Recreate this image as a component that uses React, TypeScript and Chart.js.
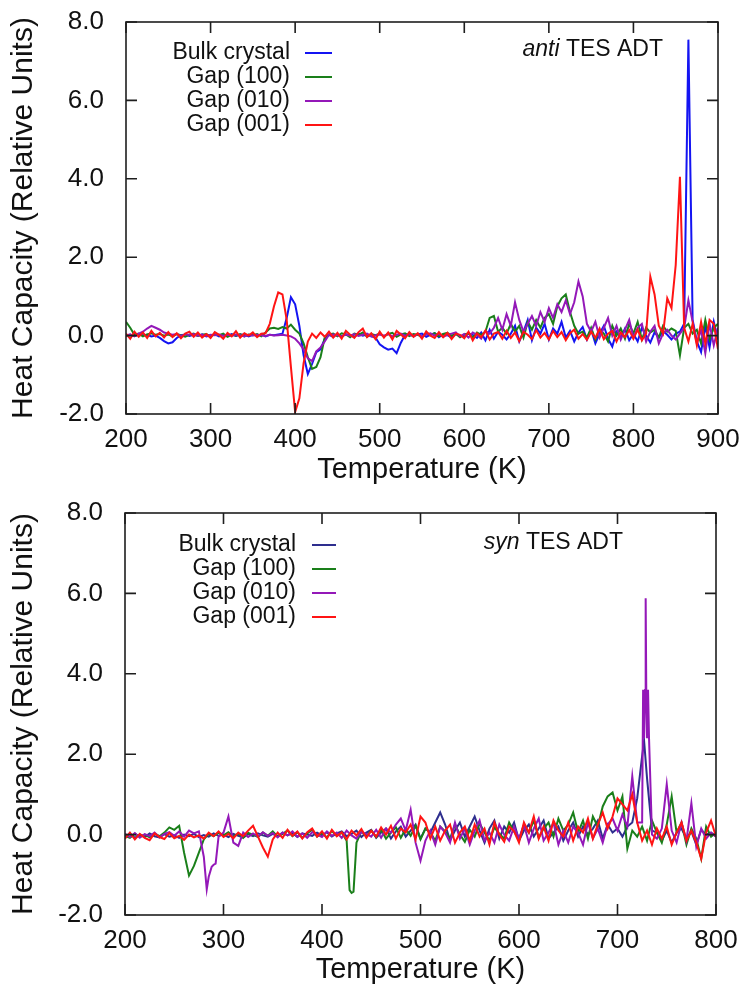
import React, { useEffect, useRef } from "react";
import { Chart, registerables } from "chart.js";

Chart.register(...registerables);

const FONT = '"Liberation Sans", Arial, Helvetica, sans-serif';

const SERIES_LABELS = ["Bulk crystal", "Gap (100)", "Gap (010)", "Gap (001)"];
const TOP_COLORS = ["#1414f2", "#1a7f1a", "#9418b8", "#ff1414"];
const BOT_COLORS = ["#2e2e8e", "#1a7f1a", "#9418b8", "#ff1414"];
const X_TITLE = "Temperature (K)";
const Y_TITLE = "Heat Capacity (Relative Units)";
const TOP_NOTE = ["anti", " TES ADT"];
const BOT_NOTE = ["syn", " TES ADT"];
const Y_TICKS = { min: -2, max: 8, step: 2 };
const TOP_X = { min: 200, max: 900, step: 100 };
const BOT_X = { min: 200, max: 800, step: 100 };

// ---- top panel (anti TES ADT), sampled every 5 K from 200 K ----
const TOP_T_START = 200;
const TOP_T_STEP = 5;

const TOP_BULK = [
  0.00, 0.02, -0.01, 0.03, 0.01, 0.02, -0.02, 0.00, -0.06, -0.14,
  -0.20, -0.17, -0.06, 0.01, 0.03, -0.01, 0.02, 0.00, 0.03, -0.02,
  0.01, 0.03, -0.02, 0.02, 0.00, 0.04, -0.01, 0.02, 0.03, -0.02,
  0.02, 0.00, 0.03, -0.02, 0.02, 0.01, 0.03, 0.05, 0.45, 0.98,
  0.80, 0.25, -0.50, -0.98, -0.72, -0.42, -0.35, -0.08, 0.02, -0.03,
  0.04, -0.02, 0.03, 0.01, -0.03, 0.05, 0.00, 0.03, -0.02, -0.05,
  -0.22, -0.30, -0.36, -0.33, -0.45, -0.18, 0.02, 0.04, -0.02, 0.03,
  0.05, -0.03, 0.02, 0.06, -0.04, 0.03, 0.01, -0.05, 0.04, 0.00,
  -0.03, 0.05, 0.02, -0.06, 0.08, -0.12, 0.15, -0.08, 0.10, 0.02,
  -0.10, 0.05, 0.25, -0.15, 0.10, 0.40, -0.12, 0.20, 0.05, 0.30,
  -0.10, 0.18, 0.05, 0.35, -0.05, 0.12, -0.15, 0.08, 0.22, -0.10,
  0.15, -0.20, 0.05, 0.25, -0.08, -0.28, 0.10, -0.05, 0.18, -0.12,
  0.05, -0.15, 0.20, 0.00, -0.18, 0.08, -0.05, 0.12, 0.02, -0.10,
  0.05, 0.10, 0.30, 7.55, 0.40, -0.15, -0.42, 0.25, -0.30, 0.35,
  -0.10,
];

const TOP_G100 = [
  0.35, 0.20, 0.02, 0.05, -0.02, 0.03, 0.06, 0.02, 0.04, 0.00,
  0.03, -0.02, 0.04, 0.01, -0.03, 0.02, 0.05, -0.01, 0.02, 0.04,
  -0.02, 0.03, 0.01, 0.05, -0.03, 0.02, 0.00, 0.04, -0.02, 0.03,
  0.01, 0.04, -0.02, 0.08, 0.18, 0.20, 0.17, 0.22, 0.18, 0.28,
  0.15, 0.05, -0.20, -0.55, -0.85, -0.80, -0.55, -0.05, 0.03, 0.05,
  -0.02, 0.06, 0.03, -0.04, 0.05, 0.02, 0.08, -0.03, 0.04, 0.01,
  0.05, -0.02, 0.04, 0.07, -0.03, 0.03, 0.06, -0.01, 0.04, 0.02,
  -0.03, 0.05, 0.02, 0.06, -0.02, 0.04, 0.07, 0.00, 0.05, -0.04,
  0.03, 0.06, -0.05, 0.08, 0.02, 0.10, 0.45, 0.50, 0.10, 0.20,
  0.05, 0.30, 0.10, 0.25, -0.05, 0.35, 0.15, 0.40, 0.20, 0.45,
  0.55, 0.30, 0.75, 0.95, 1.05, 0.60, 0.25, 0.05, 0.10, -0.05,
  0.20, -0.10, 0.15, 0.05, -0.15, 0.25, 0.00, 0.18, -0.08, 0.30,
  0.05, 0.35, -0.10, 0.20, 0.08, 0.15, -0.05, 0.25, 0.10, 0.18,
  0.12, -0.50, 0.20, 0.30, 0.05, 0.15, -0.20, 0.40, -0.10, 0.20,
  0.30,
];

const TOP_G010 = [
  0.00, 0.03, -0.02, 0.05, 0.10, 0.18, 0.25, 0.20, 0.15, 0.08,
  0.05, 0.02, 0.04, -0.01, 0.03, 0.02, 0.04, 0.00, 0.02, -0.01,
  0.02, 0.01, 0.03, -0.01, 0.02, 0.00, 0.03, 0.01, -0.02, 0.02,
  0.00, 0.02, 0.01, -0.01, 0.02, 0.00, 0.01, 0.02, 0.00, -0.02,
  -0.08, -0.20, -0.35, -0.58, -0.65, -0.40, -0.30, -0.15, 0.02, 0.03,
  0.01, -0.02, 0.03, 0.00, 0.04, -0.01, 0.02, 0.05, -0.02, 0.01,
  0.03, 0.00, 0.04, -0.02, 0.02, 0.05, -0.01, 0.03, 0.00, 0.04,
  -0.02, 0.03, 0.06, 0.00, 0.04, -0.03, 0.02, 0.05, 0.08, -0.02,
  0.04, -0.05, 0.08, 0.02, -0.08, 0.12, 0.05, 0.20, 0.45, 0.15,
  0.55, 0.25, 0.85, 0.40, 0.10, 0.30, 0.50, 0.25, 0.60, 0.35,
  0.70, 0.45, 0.80, 0.60, 0.90, 0.55, 0.85, 1.38, 1.00, 0.30,
  0.10, 0.35, -0.05, 0.20, 0.45, 0.00, 0.25, -0.10, 0.15, 0.40,
  -0.05, 0.20, 0.30, -0.15, 0.10, 0.25, -0.20, 0.05, 0.15, 0.00,
  -0.10, 0.05, 0.20, 0.90, 0.35, -0.20, 0.15, -0.45, 0.30, -0.25,
  0.20,
];

const TOP_G001 = [
  0.05, -0.08, 0.10, -0.03, 0.08, -0.06, 0.12, -0.02, 0.07, -0.05,
  0.09, -0.04, 0.06, -0.07, 0.05, 0.10, -0.03, 0.08, -0.05, 0.04,
  -0.06, 0.09, 0.02, -0.08, 0.07, -0.02, 0.11, -0.05, 0.06, 0.00,
  0.08, -0.04, 0.05, 0.06, 0.30, 0.75, 1.10, 1.05, 0.40, -0.80,
  -1.95, -1.60, -0.70, -0.15, 0.05, -0.06, 0.08, -0.03, 0.10, -0.05,
  0.07, -0.08, 0.12, 0.02, -0.06, 0.09, 0.18, -0.04, 0.06, -0.09,
  0.10, -0.05, 0.08, -0.10, 0.12, 0.03, -0.07, 0.09, -0.03, 0.06,
  -0.08, 0.11, 0.00, -0.06, 0.09, -0.04, 0.07, -0.09, 0.05, 0.02,
  -0.07, 0.10, -0.12, 0.06, -0.04, 0.13, -0.10, 0.05, 0.09, -0.08,
  0.12, -0.06, 0.08, -0.14, 0.10, 0.02, -0.09, 0.14, -0.05, 0.07,
  -0.10, 0.12, -0.04, 0.09, -0.12, 0.06, 0.15, -0.08, 0.04, -0.11,
  0.10, -0.06, 0.18, -0.09, 0.05, 0.12, -0.15, 0.08, -0.04, 0.14,
  -0.08, 0.15, -0.12, 0.05, 1.50, 1.05, 0.25, 0.05, 0.95, 0.70,
  1.80, 4.05, 0.20, -0.15, 0.30, -0.25, 0.35, -0.20, 0.40, 0.30,
  -0.35,
];

// ---- bottom panel (syn TES ADT), sampled every 5 K from 200 K ----
const BOT_T_START = 200;
const BOT_T_STEP = 5;

const BOT_BULK = [
  -0.05, 0.02, -0.08, 0.00, -0.06, 0.03, -0.04, -0.07, 0.01, -0.05,
  -0.02, -0.08, 0.00, -0.04, 0.02, -0.06, -0.01, -0.05, 0.03, -0.03,
  0.00, -0.06, 0.02, -0.03, -0.07, 0.01, -0.04, 0.03, -0.02, -0.05,
  0.02, -0.04, 0.05, -0.02, 0.04, -0.06, 0.03, 0.00, -0.03, 0.05,
  -0.02, 0.06, -0.05, 0.03, 0.08, -0.04, 0.02, 0.10, -0.06, 0.05,
  0.12, -0.08, 0.05, 0.15, -0.10, 0.08, 0.20, -0.05, 0.10, 0.25,
  -0.10, 0.15, 0.05, 0.30, 0.55, 0.25, -0.15, 0.10, 0.30, -0.05,
  0.20, 0.45, 0.10, -0.20, 0.15, 0.35, -0.10, 0.20, 0.05, 0.30,
  -0.15, 0.10, 0.25, -0.05, 0.15, 0.35, -0.10, 0.05, 0.20, -0.15,
  0.10, 0.30, -0.05, 0.20, 0.00, 0.15, 0.35, -0.10, 0.25, 0.05,
  0.15, -0.05, 0.20, 0.30, 0.90, 1.95, 1.40, 0.10, 0.05, -0.15,
  0.10, -0.20, 0.05, 0.15, -0.10, 0.08, -0.25, 0.12, 0.00, 0.05,
  -0.05,
];
const BOT_BULK_EXTRA_T = [727];
const BOT_BULK_EXTRA_V = [2.33];

const BOT_G100 = [
  -0.03, -0.08, 0.02, -0.05, 0.00, -0.07, 0.03, -0.04, 0.05, 0.18,
  0.12, 0.22, -0.45, -1.02, -0.78, -0.45, -0.12, 0.02, -0.04, 0.05,
  -0.02, 0.06, -0.05, 0.03, -0.08, 0.04, 0.00, -0.06, 0.05, -0.03,
  0.08, -0.05, 0.02, 0.10, -0.04, 0.06, -0.08, 0.03, 0.12, -0.05,
  0.04, -0.07, 0.09, -0.03, 0.05, -0.15, -1.45, -0.20, 0.08, -0.04,
  0.10, -0.06, 0.12, -0.10, 0.05, 0.18, -0.08, 0.14, -0.03, 0.22,
  -0.12, 0.15, 0.05, -0.15, 0.20, 0.08, -0.10, 0.25, 0.00, -0.18,
  0.12, -0.05, 0.28, 0.05, -0.15, 0.18, 0.02, -0.10, 0.30, 0.08,
  -0.12, 0.22, 0.05, 0.35, -0.08, 0.15, 0.30, -0.05, 0.40, 0.10,
  0.25, 0.55, 0.05, 0.35, -0.10, 0.45, 0.20, 0.70, 0.95, 1.05,
  0.60, 0.95, -0.35, 0.10, -0.05, 0.20, -0.15, 0.35, 0.05, -0.20,
  0.25, 0.95, 0.05, 0.30, -0.25, 0.15, -0.10, -0.60, 0.20, -0.05,
  0.05,
];
const BOT_G100_EXTRA_T = [428, 432];
const BOT_G100_EXTRA_V = [-1.38, -1.42];

const BOT_G010 = [
  0.02, -0.06, 0.04, -0.08, 0.01, -0.04, 0.05, -0.07, 0.02, 0.06,
  -0.03, 0.08, -0.05, 0.10, 0.03, 0.08, -0.55, -1.05, -0.75, -0.05,
  0.05, 0.45, -0.20, -0.28, 0.05, -0.06, 0.03, -0.05, 0.06, -0.03,
  0.04, -0.07, 0.05, -0.02, 0.08, -0.05, 0.03, -0.08, 0.06, 0.00,
  -0.06, 0.08, -0.03, 0.05, -0.08, 0.10, -0.02, -0.10, 0.06, 0.02,
  -0.05, 0.12, -0.08, 0.15, 0.05, 0.25, 0.40, 0.10, 0.62, -0.20,
  -0.65, -0.15, 0.10, -0.25, 0.20, 0.05, -0.20, 0.30, -0.10, 0.15,
  -0.25, 0.10, 0.35, -0.15, 0.05, -0.20, 0.25, 0.00, -0.15, 0.20,
  -0.10, 0.25, -0.20, 0.15, 0.40, -0.15, 0.05, 0.30, -0.25, 0.10,
  -0.20, 0.20, 0.05, -0.25, 0.30, -0.10, 0.15, -0.20, 0.25, 0.40,
  0.10, 0.50, 0.20, 1.45, 0.30, 0.30, 2.40, 0.00, -0.10, 0.15,
  1.25, 0.10, -0.20, 0.30, -0.15, 0.78, -0.30, 0.15, -0.10, 0.05,
  -0.05,
];
const BOT_G010_EXTRA_T = [283, 288, 292, 726, 727, 728, 728.6, 729.2, 731, 732];
const BOT_G010_EXTRA_V = [-1.36, -0.80, -0.72, 3.60, 2.40, 3.60, 5.88, 3.60, 3.60, 2.40];

const BOT_G001 = [
  -0.10, 0.05, -0.12, 0.02, -0.08, -0.14, 0.03, -0.06, -0.11, 0.04,
  -0.09, -0.03, -0.13, 0.00, -0.07, -0.02, -0.10, 0.05, -0.04, 0.08,
  -0.06, 0.02, -0.09, 0.05, -0.04, 0.10, 0.22, -0.05, -0.32, -0.55,
  -0.12, 0.05, -0.08, 0.12, -0.03, 0.08, -0.10, 0.06, 0.15, -0.05,
  0.08, -0.10, 0.12, -0.04, 0.06, -0.12, 0.10, -0.02, 0.14, -0.08,
  0.10, -0.05, 0.18, 0.00, 0.22, -0.10, 0.15, 0.05, 0.25, -0.12,
  0.45, 0.30, -0.10, 0.20, -0.15, 0.10, 0.25, -0.20, 0.05, 0.20,
  -0.15, 0.25, -0.05, 0.15, -0.25, 0.30, 0.00, -0.18, 0.20, 0.08,
  -0.20, 0.30, 0.05, 0.45, -0.10, 0.20, -0.15, 0.35, 0.10, -0.05,
  0.30, -0.15, 0.20, 0.05, 0.40, -0.10, 0.25, 0.55, 0.15, 0.45,
  0.90, 0.75, 0.60, 1.00, 0.30, -0.15, 0.10, -0.25, 0.15, -0.10,
  0.20, -0.25, 0.05, 0.30, -0.15, 0.10, -0.20, -0.60, 0.05, 0.35,
  -0.05,
];

type Pt = { x: number; y: number };

function buildPoints(start: number, step: number, values: number[], extraT: number[] = [], extraV: number[] = []): Pt[] {
  const pts: Pt[] = values.map((v, i) => ({ x: start + i * step, y: v }));
  extraT.forEach((t, i) => pts.push({ x: t, y: extraV[i] }));
  pts.sort((a, b) => a.x - b.x);
  return pts;
}

const framePlugin = {
  id: "frameLegend",
  afterDatasetsDraw(chart: any, _args: any, opts: any) {
    const { ctx, chartArea } = chart;
    const { left, right, top, bottom } = chartArea;
    const xs = chart.scales.x;
    const ys = chart.scales.y;
    ctx.save();
    ctx.strokeStyle = "#1e1e1e";
    ctx.lineWidth = 1.6;
    ctx.strokeRect(left, top, right - left, bottom - top);
    const L = 11;
    ctx.beginPath();
    xs.ticks.forEach((t: any) => {
      const px = xs.getPixelForValue(t.value);
      ctx.moveTo(px, bottom);
      ctx.lineTo(px, bottom - L);
      ctx.moveTo(px, top);
      ctx.lineTo(px, top + L);
    });
    ys.ticks.forEach((t: any) => {
      const py = ys.getPixelForValue(t.value);
      ctx.moveTo(left, py);
      ctx.lineTo(left + L, py);
      ctx.moveTo(right, py);
      ctx.lineTo(right - L, py);
    });
    ctx.stroke();

    // legend
    ctx.font = `${opts.fontSize}px ${FONT}`;
    ctx.fillStyle = "#111";
    ctx.textAlign = "right";
    ctx.textBaseline = "middle";
    chart.data.datasets.forEach((ds: any, i: number) => {
      const y = opts.rows[i];
      ctx.fillText(ds.label, opts.labelRight, y);
      ctx.beginPath();
      ctx.strokeStyle = ds.borderColor;
      ctx.lineWidth = 2;
      ctx.moveTo(opts.sampleLeft, y);
      ctx.lineTo(opts.sampleRight, y);
      ctx.stroke();
    });

    // note
    ctx.textAlign = "left";
    ctx.fillStyle = "#111";
    const italicFont = `italic ${opts.fontSize}px ${FONT}`;
    const normalFont = `${opts.fontSize}px ${FONT}`;
    ctx.font = italicFont;
    const w1 = ctx.measureText(opts.note[0]).width;
    ctx.font = normalFont;
    const w2 = ctx.measureText(opts.note[1]).width;
    const x0 = opts.noteRight - w1 - w2;
    ctx.font = italicFont;
    ctx.fillText(opts.note[0], x0, opts.noteY);
    ctx.font = normalFont;
    ctx.fillText(opts.note[1], x0 + w1, opts.noteY);
    ctx.restore();
  },
};

function makeConfig(p: any): any {
  return {
    type: "line",
    data: {
      datasets: p.series.map((pts: Pt[], i: number) => ({
        label: SERIES_LABELS[i],
        data: pts,
        borderColor: p.colors[i],
        backgroundColor: p.colors[i],
        borderWidth: 2,
        pointRadius: 0,
        tension: 0,
        fill: false,
        order: 10 - i,
      })),
    },
    options: {
      responsive: false,
      animation: false,
      devicePixelRatio: 1,
      layout: { autoPadding: false, padding: { left: 0, top: p.padTop, right: p.padRight, bottom: 0 } },
      plugins: {
        legend: { display: false },
        tooltip: { enabled: false },
        frameLegend: p.legend,
      },
      scales: {
        x: {
          type: "linear",
          min: p.xRange.min,
          max: p.xRange.max,
          afterFit: (s: any) => {
            s.height = p.xAxisH;
            s.paddingLeft = 0;
            s.paddingRight = 0;
          },
          grid: { display: false, drawTicks: false },
          border: { display: false },
          ticks: {
            stepSize: p.xRange.step,
            padding: 10,
            autoSkip: false,
            maxRotation: 0,
            color: "#111",
            font: { family: FONT, size: 26 },
            callback: (v: any) => String(v),
          },
          title: {
            display: true,
            text: X_TITLE,
            color: "#111",
            font: { family: FONT, size: 29 },
            padding: { top: 0, bottom: 7 },
          },
        },
        y: {
          type: "linear",
          min: Y_TICKS.min,
          max: Y_TICKS.max,
          afterFit: (s: any) => {
            s.width = p.yAxisW;
            s.paddingTop = 0;
            s.paddingBottom = 0;
          },
          grid: { display: false, drawTicks: false },
          border: { display: false },
          ticks: {
            stepSize: Y_TICKS.step,
            padding: 22,
            color: "#111",
            font: { family: FONT, size: 26 },
            callback: (v: any) => Number(v).toFixed(1),
          },
          title: {
            display: true,
            text: Y_TITLE,
            color: "#111",
            font: { family: FONT, size: 30 },
            padding: { top: 6, bottom: 0 },
          },
        },
      },
    },
    plugins: [framePlugin],
  };
}

export default function App() {
  const topRef = useRef<HTMLCanvasElement>(null);
  const botRef = useRef<HTMLCanvasElement>(null);

  useEffect(() => {
    const topSeries = [TOP_BULK, TOP_G100, TOP_G010, TOP_G001].map((v) => buildPoints(TOP_T_START, TOP_T_STEP, v));
    const botSeries = [
      buildPoints(BOT_T_START, BOT_T_STEP, BOT_BULK, BOT_BULK_EXTRA_T, BOT_BULK_EXTRA_V),
      buildPoints(BOT_T_START, BOT_T_STEP, BOT_G100, BOT_G100_EXTRA_T, BOT_G100_EXTRA_V),
      buildPoints(BOT_T_START, BOT_T_STEP, BOT_G010, BOT_G010_EXTRA_T, BOT_G010_EXTRA_V),
      buildPoints(BOT_T_START, BOT_T_STEP, BOT_G001),
    ];
    const c1 = new Chart(
      topRef.current as HTMLCanvasElement,
      makeConfig({
        series: topSeries,
        colors: TOP_COLORS,
        xRange: TOP_X,
        padTop: 22,
        padRight: 30,
        xAxisH: 80,
        yAxisW: 126,
        legend: {
          fontSize: 23,
          labelRight: 290,
          sampleLeft: 305,
          sampleRight: 332,
          rows: [53, 77, 101, 125],
          note: TOP_NOTE,
          noteRight: 663,
          noteY: 50,
        },
      })
    );
    const c2 = new Chart(
      botRef.current as HTMLCanvasElement,
      makeConfig({
        series: botSeries,
        colors: BOT_COLORS,
        xRange: BOT_X,
        padTop: 19,
        padRight: 32,
        xAxisH: 79,
        yAxisW: 125,
        legend: {
          fontSize: 23,
          labelRight: 296,
          sampleLeft: 312,
          sampleRight: 336,
          rows: [51, 75, 99, 123],
          note: BOT_NOTE,
          noteRight: 623,
          noteY: 49,
        },
      })
    );
    return () => {
      c1.destroy();
      c2.destroy();
    };
  }, []);

  return (
    <div style={{ position: "absolute", left: 0, top: 0, width: 748, height: 994, background: "#fff" }}>
      <canvas ref={topRef} width={748} height={494} style={{ position: "absolute", left: 0, top: 0, width: 748, height: 494 }} />
      <canvas ref={botRef} width={748} height={500} style={{ position: "absolute", left: 0, top: 494, width: 748, height: 500 }} />
    </div>
  );
}
